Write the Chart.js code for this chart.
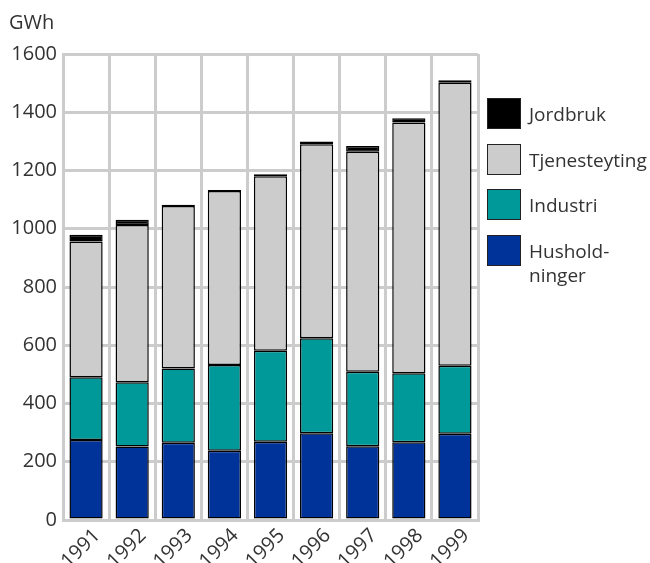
<!DOCTYPE html>
<html>
<head>
<meta charset="utf-8">
<script src="https://cdn.jsdelivr.net/npm/chart.js@4/dist/chart.umd.min.js"></script>
<style>
  html, body { margin: 0; padding: 0; background: #fff; overflow: hidden; }
  #wrap { position: relative; width: 650px; height: 563px; font-family: "Open Sans", sans-serif; color: #333; }
  #unit { position: absolute; left: 9px; top: 8px; font-size: 20px; }
  .leg { position: absolute; left: 487px; font-size: 19px; line-height: 24px; }
  .leg span.box { position: absolute; left: 0; top: 0; width: 32px; height: 29px; border: 1px solid #222; }
  .leg span.txt { position: absolute; left: 42px; top: 4px; white-space: nowrap; }
</style>
</head>
<body>
<div id="wrap">
  <canvas id="chart" width="650" height="563"></canvas>
  <div id="unit">GWh</div>
  <div id="legend"></div>
</div>
<script>
// kategorier (år)
const years = ['1991', '1992', '1993', '1994', '1995', '1996', '1997', '1998', '1999'];

// verdier i GWh, lest av figuren
const husholdninger = [275, 252, 265, 238, 269, 298, 253, 267, 296];
const industri = [215, 221, 255, 294, 312, 326, 256, 237, 234];
const tjenesteyting = [466, 540, 558, 598, 599, 666, 755, 861, 971];
const jordbruk = [23, 18, 4, 3, 7, 10, 20, 14, 9];

// y-akse
const yMax = 1600;
const yStep = 200;

const colors = {
    hus: '#003399',
    ind: '#009999',
    tje: '#cccccc',
    jor: '#000000'
};

const ctx = document.getElementById('chart').getContext('2d');

const ds = (label, data, color) => ({
    label: label,
    data: data,
    backgroundColor: color,
    borderColor: '#000',
    borderWidth: 1.5,
    borderSkipped: false,
    barPercentage: 0.72,
    categoryPercentage: 1
});

new Chart(ctx, {
    type: 'bar',
    data: {
        labels: years,
        datasets: [
            ds('Husholdninger', husholdninger, colors.hus),
            ds('Industri', industri, colors.ind),
            ds('Tjenesteyting', tjenesteyting, colors.tje),
            ds('Jordbruk', jordbruk, colors.jor)
        ]
    },
    options: {
        responsive: false,
        animation: false,
        layout: { padding: { top: 54, right: 172, left: 0, bottom: 0 } },
        plugins: {
            legend: { display: false },
            tooltip: { enabled: false }
        },
        scales: {
            x: {
                stacked: true,
                grid: { color: '#cccccc', lineWidth: 3, drawTicks: false, offset: true },
                border: { color: '#cccccc', width: 3 },
                ticks: {
                    color: '#333',
                    font: { family: 'Open Sans', size: 20 },
                    maxRotation: 45,
                    minRotation: 45,
                    padding: 4,
                    labelOffset: 11,
                    autoSkip: false
                },
                afterFit: (scale) => { scale.height = 43; }
            },
            y: {
                stacked: true,
                min: 0,
                max: yMax,
                grid: { color: '#cccccc', lineWidth: 3, drawTicks: false },
                border: { color: '#cccccc', width: 3 },
                ticks: {
                    stepSize: yStep,
                    color: '#333',
                    font: { family: 'Open Sans', size: 20 },
                    padding: 6,
                    callback: (value) => String(value)
                },
                afterFit: (scale) => { scale.width = 63; }
            }
        }
    }
});

// egen tegnforklaring, øverst Jordbruk
const legendItems = [
    { text: 'Jordbruk', color: colors.jor, top: 98 },
    { text: 'Tjenesteyting', color: colors.tje, top: 144 },
    { text: 'Industri', color: colors.ind, top: 189 },
    { text: 'Hushold-<br>ninger', color: colors.hus, top: 235 }
];
const legendEl = document.getElementById('legend');
legendItems.forEach(item => {
    const d = document.createElement('div');
    d.className = 'leg';
    d.style.top = item.top + 'px';
    d.innerHTML = '<span class="box" style="background:' + item.color + '"></span>' +
        '<span class="txt">' + item.text + '</span>';
    legendEl.appendChild(d);
});
</script>
</body>
</html>
